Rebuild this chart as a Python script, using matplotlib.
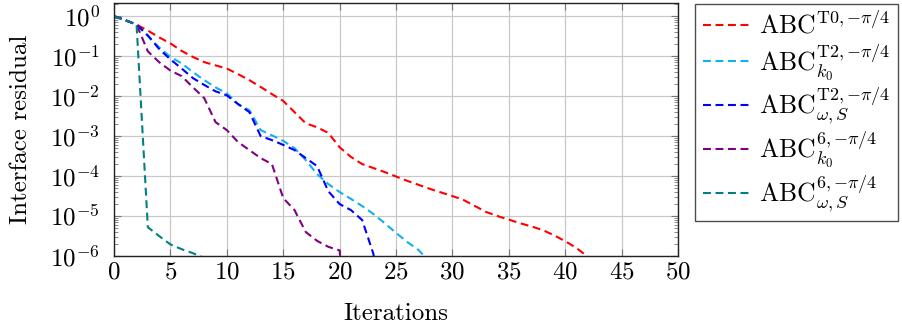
import numpy as np
import matplotlib
matplotlib.use("Agg")
import matplotlib.pyplot as plt

plt.rcParams['font.family'] = 'serif'
plt.rcParams['font.serif'] = ['cmr10', 'DejaVu Serif']
plt.rcParams['mathtext.fontset'] = 'cm'
plt.rcParams['axes.formatter.use_mathtext'] = True
plt.rcParams['font.size'] = 18

# log10 of interface residual per iteration
red_log = [0, -0.1, -0.21, -0.36, -0.53, -0.68, -0.87, -1.02, -1.15, -1.23, -1.31,
           -1.45, -1.6, -1.77, -1.95, -2.12, -2.4, -2.68, -2.78, -2.92, -3.28,
           -3.52, -3.7, -3.8, -3.9, -4.01, -4.12, -4.22, -4.32, -4.41, -4.5,
           -4.6, -4.75, -4.9, -5.0, -5.09, -5.18, -5.26, -5.35, -5.48, -5.63,
           -5.8, -6.02]
cyan_log = [0, -0.1, -0.21, -0.5, -0.78, -1.02, -1.18, -1.4, -1.6, -1.78, -1.93,
            -2.2, -2.35, -2.85, -2.98, -3.12, -3.3, -3.6, -3.95, -4.2, -4.4,
            -4.57, -4.75, -4.95, -5.18, -5.42, -5.65, -5.85, -6.15]
blue_log = [0, -0.1, -0.21, -0.48, -0.82, -1.08, -1.31, -1.55, -1.72, -1.88, -1.98,
            -2.2, -2.4, -3.0, -3.1, -3.22, -3.35, -3.55, -3.75, -4.38, -4.7,
            -4.85, -5.1, -5.95, -8.0]
purple_log = [0, -0.1, -0.21, -0.88, -1.15, -1.36, -1.5, -1.78, -2.05, -2.65, -2.85,
              -3.15, -3.35, -3.55, -3.7, -4.55, -4.85, -5.4, -5.62, -5.77, -5.86,
              -9.0]
teal_log = [0, -0.1, -0.21, -5.28, -5.5, -5.71, -5.83, -5.93, -6.05]

labels = [r'$\mathrm{ABC}^{\mathrm{T0},{-}\pi/4}$',
          r'$\mathrm{ABC}_{k_0}^{\mathrm{T2},{-}\pi/4}$',
          r'$\mathrm{ABC}_{\omega,S}^{\mathrm{T2},{-}\pi/4}$',
          r'$\mathrm{ABC}_{k_0}^{6,{-}\pi/4}$',
          r'$\mathrm{ABC}_{\omega,S}^{6,{-}\pi/4}$']
colors = ['#ff0000', '#12b0ee', '#0000ff', '#800080', '#008080']
series = [red_log, cyan_log, blue_log, purple_log, teal_log]

W, H = 903, 329
fig = plt.figure(figsize=(W/100, H/100), dpi=100)
ax = fig.add_axes([114/W, 1-256/H, (678-114)/W, (256-3)/H])

for s, c, l in zip(series, colors, labels):
    it = np.arange(len(s))
    ax.plot(it, 10.0**np.array(s), color=c, lw=1.5, ls=(0, (3.8, 2.2)), label=l)

ax.set_yscale('log')
ax.set_xlim(0, 50)
ax.set_ylim(1e-6, 10**0.33)
ax.set_xticks(np.arange(0, 51, 5))
ax.set_yticks([10.0**k for k in range(-6, 1)])
ax.grid(True, which='major', color='#c8c8c8', lw=0.9)
ax.set_axisbelow(True)
ax.tick_params(which='both', direction='in', top=True, right=True, color='#777777')
ax.tick_params(which='major', length=5, width=0.8)
ax.tick_params(which='minor', length=3, width=0.6)
ax.tick_params(axis='y', which='major', pad=10)
ax.tick_params(axis='x', which='major', pad=4)
ax.minorticks_on()
ax.xaxis.set_minor_locator(matplotlib.ticker.NullLocator())
ax.yaxis.set_minor_locator(matplotlib.ticker.LogLocator(base=10, subs=np.arange(2, 10), numticks=20))
ax.yaxis.set_minor_formatter(matplotlib.ticker.NullFormatter())
for sp in ax.spines.values():
    sp.set_linewidth(1.0)
    sp.set_color('#222222')
ax.set_xlabel('Iterations', labelpad=14)
ax.set_ylabel('Interface residual', labelpad=13)

leg = fig.legend(loc='upper left', bbox_to_anchor=(695/W, 1-4/H), frameon=True,
                 fancybox=False, edgecolor='#222222', handlelength=1.9,
                 handletextpad=0.3, labelspacing=0.13, borderpad=0.3,
                 borderaxespad=0, fontsize=18.5)
leg.get_frame().set_linewidth(1.0)

fig.savefig('out.png', dpi=100)
